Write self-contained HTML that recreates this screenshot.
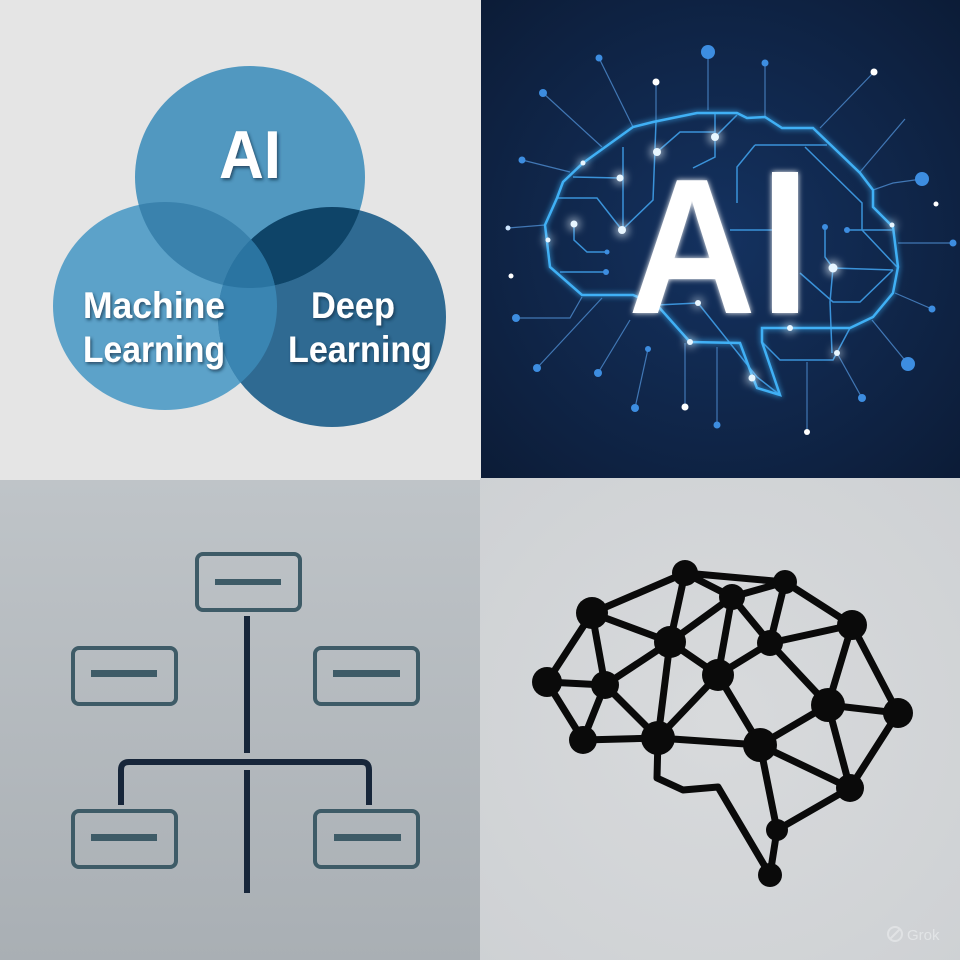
<!DOCTYPE html>
<html><head><meta charset="utf-8"><style>
html,body{margin:0;padding:0;width:960px;height:960px;overflow:hidden;background:#fff}
svg{display:block}
</style></head><body>
<svg width="960" height="960" viewBox="0 0 960 960" xmlns="http://www.w3.org/2000/svg">
<defs>
<radialGradient id="navy" cx="0.5" cy="0.5" r="0.7">
<stop offset="0" stop-color="#143260"/><stop offset="1" stop-color="#0c1c37"/>
</radialGradient>
<linearGradient id="bl" x1="0" y1="0" x2="0" y2="1">
<stop offset="0" stop-color="#bfc4c8"/><stop offset="1" stop-color="#a9afb4"/>
</linearGradient>
<radialGradient id="br" cx="0.5" cy="0.5" r="0.8">
<stop offset="0" stop-color="#d8dadc"/><stop offset="1" stop-color="#cdd0d3"/>
</radialGradient>
<clipPath id="cAI"><ellipse cx="250" cy="177" rx="115" ry="111"/></clipPath>
<clipPath id="cML"><ellipse cx="165" cy="306" rx="112" ry="104"/></clipPath>
<clipPath id="cDL"><ellipse cx="332" cy="317" rx="114" ry="110"/></clipPath>
<filter id="glow" x="-50%" y="-50%" width="200%" height="200%">
<feGaussianBlur stdDeviation="3" result="b"/><feMerge><feMergeNode in="b"/><feMergeNode in="SourceGraphic"/></feMerge>
</filter>
<filter id="glow2" x="-100%" y="-100%" width="300%" height="300%">
<feGaussianBlur stdDeviation="5" result="b"/><feMerge><feMergeNode in="b"/><feMergeNode in="b"/><feMergeNode in="SourceGraphic"/></feMerge>
</filter>
<filter id="ts" x="-20%" y="-20%" width="140%" height="140%">
<feDropShadow dx="1.5" dy="2" stdDeviation="1.5" flood-color="#0a2a40" flood-opacity="0.7"/>
</filter>
</defs>

<rect x="0" y="0" width="481" height="480" fill="#e5e5e5"/>
<rect x="481" y="0" width="479" height="478" fill="url(#navy)"/>
<rect x="0" y="480" width="480" height="480" fill="url(#bl)"/>
<rect x="480" y="478" width="480" height="482" fill="url(#br)"/>

<ellipse cx="165" cy="306" rx="112" ry="104" fill="#5ca2c9"/>
<ellipse cx="332" cy="317" rx="114" ry="110" fill="#2f6a92"/>
<ellipse cx="250" cy="177" rx="115" ry="111" fill="#5198c0"/>
<g clip-path="url(#cAI)"><ellipse cx="165" cy="306" rx="112" ry="104" fill="#3a82ad"/><ellipse cx="332" cy="317" rx="114" ry="110" fill="#0e4468"/></g>
<g clip-path="url(#cML)"><ellipse cx="332" cy="317" rx="114" ry="110" fill="#3a85b2"/></g>
<g clip-path="url(#cML)"><g clip-path="url(#cAI)"><ellipse cx="332" cy="317" rx="114" ry="110" fill="#2a74a1"/></g></g>
<g font-family="Liberation Sans, sans-serif" font-weight="bold" fill="#fff" filter="url(#ts)" text-anchor="middle">
<text x="250" y="178" font-size="68" textLength="62" lengthAdjust="spacingAndGlyphs">AI</text>
<text x="154" y="318" font-size="37" textLength="142" lengthAdjust="spacingAndGlyphs">Machine</text>
<text x="154" y="362" font-size="37" textLength="142" lengthAdjust="spacingAndGlyphs">Learning</text>
<text x="353" y="318" font-size="37" textLength="84" lengthAdjust="spacingAndGlyphs">Deep</text>
<text x="360" y="362" font-size="37" textLength="144" lengthAdjust="spacingAndGlyphs">Learning</text>
</g>

<g stroke="#4a86c8" stroke-width="1.2" fill="none" opacity="0.85">
<path d="M599,58 L633,127"/><path d="M543,93 L602,147"/><path d="M522,160 L570,172"/>
<path d="M508,228 L545,225"/><path d="M516,318 L570,318 L582,297"/>
<path d="M537,368 L602,298"/><path d="M598,373 L630,320"/><path d="M635,408 L648,349"/>
<path d="M685,407 L685,343"/><path d="M717,425 L717,347"/><path d="M807,432 L807,362"/>
<path d="M862,398 L837,353"/><path d="M908,364 L872,320"/><path d="M932,309 L895,293"/>
<path d="M953,243 L898,243"/><path d="M922,179 L893,183 L873,190"/><path d="M905,119 L860,172"/>
<path d="M874,72 L820,128"/><path d="M765,63 L765,117"/><path d="M708,52 L708,110"/><path d="M656,82 L656,122"/>
</g>
<g stroke="#3f9ee8" stroke-width="1.5" fill="none" opacity="0.9">
<path d="M715,113 L715,157 L693,168"/><path d="M657,152 L680,132 L715,132"/><path d="M715,137 L737,115"/>
<path d="M623,147 L623,230"/><path d="M573,177 L620,178"/><path d="M558,198 L597,198 L622,230"/>
<path d="M622,230 L653,200 L656,122"/><path d="M574,224 L574,240 L587,252 L608,252"/><path d="M560,272 L607,272"/>
<path d="M755,145 L737,167 L737,203"/><path d="M755,145 L827,145"/><path d="M805,147 L862,203 L862,230 L897,267"/>
<path d="M847,230 L892,230"/><path d="M825,227 L825,257 L833,268 L893,270"/><path d="M833,268 L830,302 L832,353"/>
<path d="M800,273 L833,302 L860,302 L893,270"/><path d="M657,305 L698,303 L757,377 L780,395"/>
<path d="M762,342 L780,360 L833,360 L850,328"/><path d="M730,230 L773,230"/>
</g>
<path d="M583,163 L633,127 L653,122 L697,113 L737,113 L747,118 L765,117 L782,128 L813,128 L860,173 L873,190 L873,207 L893,227 L898,267 L893,293 L873,317 L850,328 L762,328 L762,342 L780,395 L757,388 L750,370 L740,343 L690,342 L657,305 L633,295 L582,295 L550,267 L545,225 L557,198 L563,182 Z" fill="none" stroke="#3fb0f5" stroke-width="2.5" filter="url(#glow)"/>
<g fill="#3d8de0">
<circle cx="599" cy="58" r="3.5"/><circle cx="543" cy="93" r="4"/><circle cx="522" cy="160" r="3.5"/>
<circle cx="508" cy="228" r="2.5" fill="#cfe6ff"/><circle cx="511" cy="276" r="2.5" fill="#fff"/>
<circle cx="516" cy="318" r="4"/><circle cx="537" cy="368" r="4"/><circle cx="598" cy="373" r="4"/>
<circle cx="635" cy="408" r="4"/><circle cx="648" cy="349" r="3"/><circle cx="685" cy="407" r="3.5" fill="#fff"/>
<circle cx="717" cy="425" r="3.5"/><circle cx="807" cy="432" r="3" fill="#fff"/><circle cx="862" cy="398" r="4"/>
<circle cx="908" cy="364" r="7"/><circle cx="932" cy="309" r="3.5"/><circle cx="953" cy="243" r="3.5"/>
<circle cx="936" cy="204" r="2.5" fill="#fff"/><circle cx="922" cy="179" r="7"/><circle cx="874" cy="72" r="3.5" fill="#fff"/>
<circle cx="765" cy="63" r="3.5"/><circle cx="708" cy="52" r="7"/><circle cx="656" cy="82" r="3.5" fill="#fff"/>
<circle cx="825" cy="227" r="3"/><circle cx="847" cy="230" r="3"/><circle cx="607" cy="252" r="2.5"/><circle cx="606" cy="272" r="3"/>
</g>
<g fill="#e8f6ff" filter="url(#glow2)">
<circle cx="657" cy="152" r="4"/><circle cx="715" cy="137" r="4"/><circle cx="620" cy="178" r="3.5"/>
<circle cx="622" cy="230" r="4"/><circle cx="574" cy="224" r="3.5"/><circle cx="833" cy="268" r="4.5"/>
<circle cx="698" cy="303" r="3"/><circle cx="690" cy="342" r="3"/><circle cx="790" cy="328" r="3"/>
<circle cx="837" cy="353" r="3"/><circle cx="752" cy="378" r="3.5"/><circle cx="583" cy="163" r="2.5"/>
<circle cx="548" cy="240" r="2.5"/><circle cx="892" cy="225" r="2.5"/>
</g>
<g font-family="Liberation Sans, sans-serif" fill="#fff" filter="url(#glow)">
<text x="628" y="313" font-size="193" font-weight="bold" textLength="128" lengthAdjust="spacingAndGlyphs">A</text>
<rect x="772" y="172" width="26" height="141"/>
</g>

<g fill="none" stroke="#3e5b67" stroke-width="4">
<rect x="197" y="554" width="103" height="56" rx="6"/>
<rect x="73" y="648" width="103" height="56" rx="6"/>
<rect x="315" y="648" width="103" height="56" rx="6"/>
<rect x="73" y="811" width="103" height="56" rx="6"/>
<rect x="315" y="811" width="103" height="56" rx="6"/>
</g>
<g fill="#3e5b67">
<rect x="215" y="579" width="66" height="6"/><rect x="91" y="670" width="66" height="7"/>
<rect x="333" y="670" width="67" height="7"/><rect x="91" y="834" width="66" height="7"/><rect x="334" y="834" width="67" height="7"/>
</g>
<g fill="none" stroke="#17263a" stroke-width="6">
<path d="M247,616 L247,753"/><path d="M247,770 L247,893"/>
<path d="M121,805 L121,770 Q121,762 129,762 L362,762 Q369,762 369,770 L369,805"/>
</g>

<g stroke="#0a0a0a" stroke-width="7" fill="none" stroke-linejoin="round">
<path d="M685,573 L785,582 M685,573 L732,597 M685,573 L592,613 M685,573 L670,642 M732,597 L785,582 M732,597 L670,642 M732,597 L718,675 M732,597 L770,643 M785,582 L770,643 M785,582 L852,625 M592,613 L670,642 M592,613 L547,682 M592,613 L605,685 M670,642 L605,685 M670,642 L658,738 M670,642 L718,675 M770,643 L718,675 M770,643 L852,625 M770,643 L828,705 M852,625 L828,705 M852,625 L898,713 M547,682 L605,685 M547,682 L583,740 M605,685 L583,740 M605,685 L658,738 M718,675 L658,738 M718,675 L760,745 M658,738 L760,745 M760,745 L828,705 M828,705 L898,713 M828,705 L850,788 M898,713 L850,788 M760,745 L850,788 M850,788 L777,830 M760,745 L777,830 M777,830 L770,875 M583,740 L658,738"/>
<path d="M658,738 L657,778 L683,790 L718,787 L770,875"/>
</g>
<g fill="#0a0a0a">
<circle cx="685" cy="573" r="13"/><circle cx="785" cy="582" r="12"/><circle cx="732" cy="597" r="13"/>
<circle cx="592" cy="613" r="16"/><circle cx="852" cy="625" r="15"/><circle cx="670" cy="642" r="16"/>
<circle cx="770" cy="643" r="13"/><circle cx="718" cy="675" r="16"/><circle cx="547" cy="682" r="15"/>
<circle cx="605" cy="685" r="14"/><circle cx="828" cy="705" r="17"/><circle cx="898" cy="713" r="15"/>
<circle cx="583" cy="740" r="14"/><circle cx="658" cy="738" r="17"/><circle cx="760" cy="745" r="17"/>
<circle cx="850" cy="788" r="14"/><circle cx="777" cy="830" r="11"/><circle cx="770" cy="875" r="12"/>
</g>

<g opacity="0.55" fill="none" stroke="#eef0f2" stroke-width="2">
<circle cx="895" cy="934" r="7"/><path d="M890,939 L900,929"/>
</g>
<text x="907" y="940" font-family="Liberation Sans, sans-serif" font-size="15" fill="#eef0f2" opacity="0.6">Grok</text>
</svg>
</body></html>
